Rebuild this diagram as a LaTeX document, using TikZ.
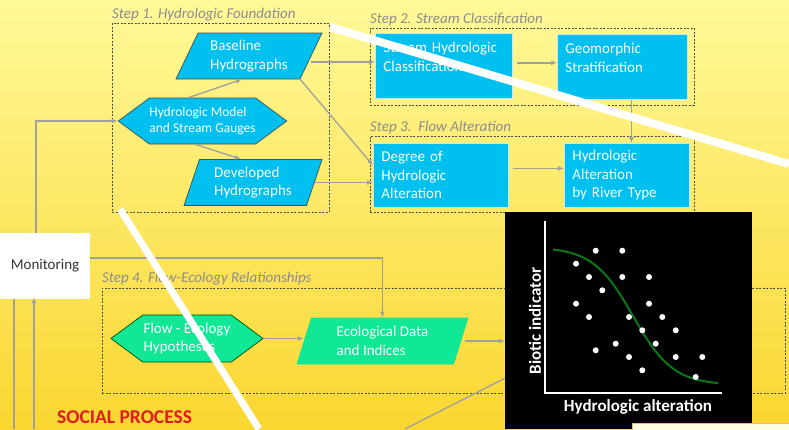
\documentclass[tikz,border=0pt]{standalone}
\usepackage{fontspec}
\setmainfont{Carlito}
\usepackage{tikz}
\usetikzlibrary{calc, arrows.meta, shapes.geometric, shapes.symbols}
\definecolor{bgtop}{RGB}{255,249,152}
\definecolor{bgmid}{RGB}{252,236,110}
\definecolor{bgbottom}{RGB}{250,214,48}
\definecolor{boxcyan}{RGB}{0,192,240}
\definecolor{boxgreen}{RGB}{16,232,150}
\definecolor{linegray}{RGB}{160,160,160}
\definecolor{labelgray}{RGB}{140,140,140}
\definecolor{socialred}{RGB}{222,30,30}
\definecolor{curvegreen}{RGB}{10,120,20}
\newcommand{\boxfont}{\fontsize{15}{18.5}\selectfont}
\newcommand{\smallfont}{\fontsize{13.5}{16}\selectfont}
\tikzset{
    stepbox/.style = {draw=black!70, line width=0.6pt, dash pattern=on 2pt off 1.5pt, rectangle,
      inner sep=0pt, anchor=north west},
    steplabel/.style = {draw=none, inner sep=0pt, anchor=south west, text=labelgray,
      font=\fontsize{15}{18}\selectfont\itshape},
    cyanbox/.style = {draw=cyan!25, line width=0.8pt, fill=boxcyan, rectangle, text=white,
      align=left, anchor=north west, inner xsep=8pt, font=\boxfont},
    paranode/.style = {trapezium, trapezium stretches body=true, draw=black!75!cyan, line width=0.7pt,
      fill=boxcyan, minimum height=46pt, text=white, align=left, font=\boxfont, inner xsep=0pt},
    hexnode/.style = {signal, signal to=west and east, signal pointer angle=73, draw=black!75!cyan,
      line width=0.7pt, minimum height=46pt, text=white, align=left, inner sep=0pt},
    connect/.style = {draw=linegray, line width=1.3pt, -{Latex[length=6pt,width=5pt]}},
    plainline/.style = {draw=linegray, line width=1.3pt},
    dotnode/.style = {circle, fill=white, inner sep=0pt, minimum size=6pt},
    strike/.style = {white, line width=8pt}
}

\begin{document}
\begin{tikzpicture}[x=1pt, y=-1pt]
    \useasboundingbox (0,0) rectangle (789,429);
    \shade [top color=bgtop, middle color=bgmid, bottom color=bgbottom] (0,0) rectangle (789,429);

    % dashed step frames
    \node [name=step1, stepbox, minimum width=217pt, minimum height=189pt] at (112,23) {};
    \node [name=step2, stepbox, minimum width=324pt, minimum height=77pt] at (370,28) {};
    \node [name=step3, stepbox, minimum width=324pt, minimum height=76pt] at (370,136) {};
    \node [name=step4, stepbox, minimum width=683pt, minimum height=105pt] at (102,288) {};
    \node [steplabel] at ([yshift=1.5pt]step1.north west) {Step 1. Hydrologic Foundation};
    \node [steplabel] at ([yshift=1.5pt]step2.north west) {Step 2. Stream Classification};
    \node [steplabel] at ([yshift=2pt]step3.north west) {Step 3.\ \ Flow Alteration};
    \node [steplabel] at ([yshift=3pt]step4.north west) {Step 4. Flow-Ecology Relationships};

    % step 1
    \node [name=baseline, paranode, trapezium left angle=60, trapezium right angle=120,
        minimum width=146pt] at (249,56) {Baseline\\Hydrographs};
    \node [name=hydmod, hexnode, fill=boxcyan, minimum width=159pt, font=\smallfont]
        at (202.5,121) {Hydrologic Model\\and Stream Gauges};
    \node [name=developed, paranode, trapezium left angle=68, trapezium right angle=112,
        minimum width=138pt] at (253,182.5) {Developed\\Hydrographs};

    % steps 2 and 3
    \node [name=shc, cyanbox, minimum height=65pt, text width=121pt] at (375,33)
        {Stream Hydrologic\\Classification\\\mbox{}};
    \node [name=geo, cyanbox, minimum height=65pt, text width=114pt] at (557,34)
        {Geomorphic\\Stratification\\\mbox{}};
    \node [name=dha, cyanbox, minimum height=64pt, text width=119pt] at (373,143)
        {Degree of\\Hydrologic\\Alteration};
    \node [name=har, cyanbox, minimum height=64pt, text width=109pt] at (564,143)
        {Hydrologic\\Alteration\\by River Type};

    % step 4
    \node [name=floweco, hexnode, fill=boxgreen, draw=green!30!black, minimum width=152pt,
        minimum height=47pt, font=\boxfont] at (187,338.5) {Flow - Ecology\\Hypotheses};
    \node [name=ecodata, paranode, fill=boxgreen, draw=boxgreen, trapezium left angle=68,
        trapezium right angle=112, minimum width=171pt] at (382.5,341) {Ecological Data\\and Indices};

    \node [name=monitor, rectangle, fill=white, minimum width=90pt, minimum height=66pt,
        font=\boxfont, text=black!80] at (45,266) {Monitoring};

    \node [name=plotpanel, rectangle, fill=black, inner sep=0pt, minimum width=247pt,
        minimum height=217pt, anchor=north west] at (505,212) {};

    \coordinate (socialA) at (14,429);
    \coordinate (socialB) at (34,429);
    \coordinate (socialC) at (405,429);

    \draw [connect] ([xshift=-9pt]monitor.north) |- (hydmod.west);
    \draw [connect] ([xshift=-14pt]hydmod.north) -- ([xshift=-7pt]baseline.south);
    \draw [connect] ([xshift=-7pt]hydmod.south) -- ([xshift=-12pt]developed.north);
    \draw [connect] ([yshift=-6pt]baseline.east) -- ([yshift=-6pt]baseline.east -| shc.west);
    \draw [connect] (baseline.bottom right corner) -- ([yshift=10pt]dha.west);
    \draw [connect] (developed.east) -- (developed.east -| dha.west);
    \draw [connect, shorten <=4pt] ([yshift=3pt]shc.east) -- ([yshift=3pt]shc.east -| geo.west);
    \draw [connect] ([xshift=9pt]geo.south) -- ([xshift=9pt]geo.south |- har.north);
    \draw [connect, shorten <=4pt] ([yshift=7pt]dha.east) -- ([yshift=7pt]dha.east -| har.west);
    \draw [connect] ([yshift=8pt]monitor.east) -| (ecodata.north);
    \draw [connect] (floweco.east) -- (floweco.east -| ecodata.west);
    \draw [connect, shorten <=4pt] (ecodata.east) -- (ecodata.east -| plotpanel.west);
    \draw [plainline] (socialC) -- ([yshift=-57.5pt]plotpanel.west);
    \draw [plainline] (monitor.south -| socialA) -- (socialA);
    \draw [connect, shorten >=-2pt] (socialB) -- (socialB |- monitor.south);

    % flow-ecology plot
    \draw [white, line width=1.5pt] (545,221) -- (545,393) -- (722,393);
    \draw [curvegreen, line width=2pt] plot [domain=553:718, samples=60, smooth]
        (\x, {247+138/(1+exp(-(\x-633)/20))});
    \foreach \px/\py in {595.7/250.7, 622.3/250.7, 576/263.7, 589/277, 622.3/277, 649/277,
        602.3/290.3, 576/303.7, 649/303.7, 589/317, 629/317, 662.3/317, 642.3/330.3,
        675.7/330.3, 615.7/343.7, 655.7/343.7, 595.7/350.3, 629/357, 675.7/357, 702.3/357,
        642.3/370.3, 695.7/377}
        \node [dotnode] at (\px,\py) {};
    \node [name=ylabel, rotate=90, text=white, font=\fontsize{17}{20}\selectfont\bfseries]
        at (535,321) {Biotic indicator};
    \node [name=xlabel, text=white, font=\fontsize{17}{20}\selectfont\bfseries]
        at (638,407) {Hydrologic alteration};

    \filldraw [fill=yellow!12, draw=orange!60] (632,423) rectangle (795,435);

    \node [name=social, anchor=west, inner sep=0pt, text=socialred,
        font=\fontsize{19.5}{22}\selectfont\bfseries] at (57,417) {SOCIAL PROCESS};

    \draw [strike] (330,27) -- (789,164);
    \draw [strike, line width=7pt] (120,209) -- (259,429);
\end{tikzpicture}
\end{document}
